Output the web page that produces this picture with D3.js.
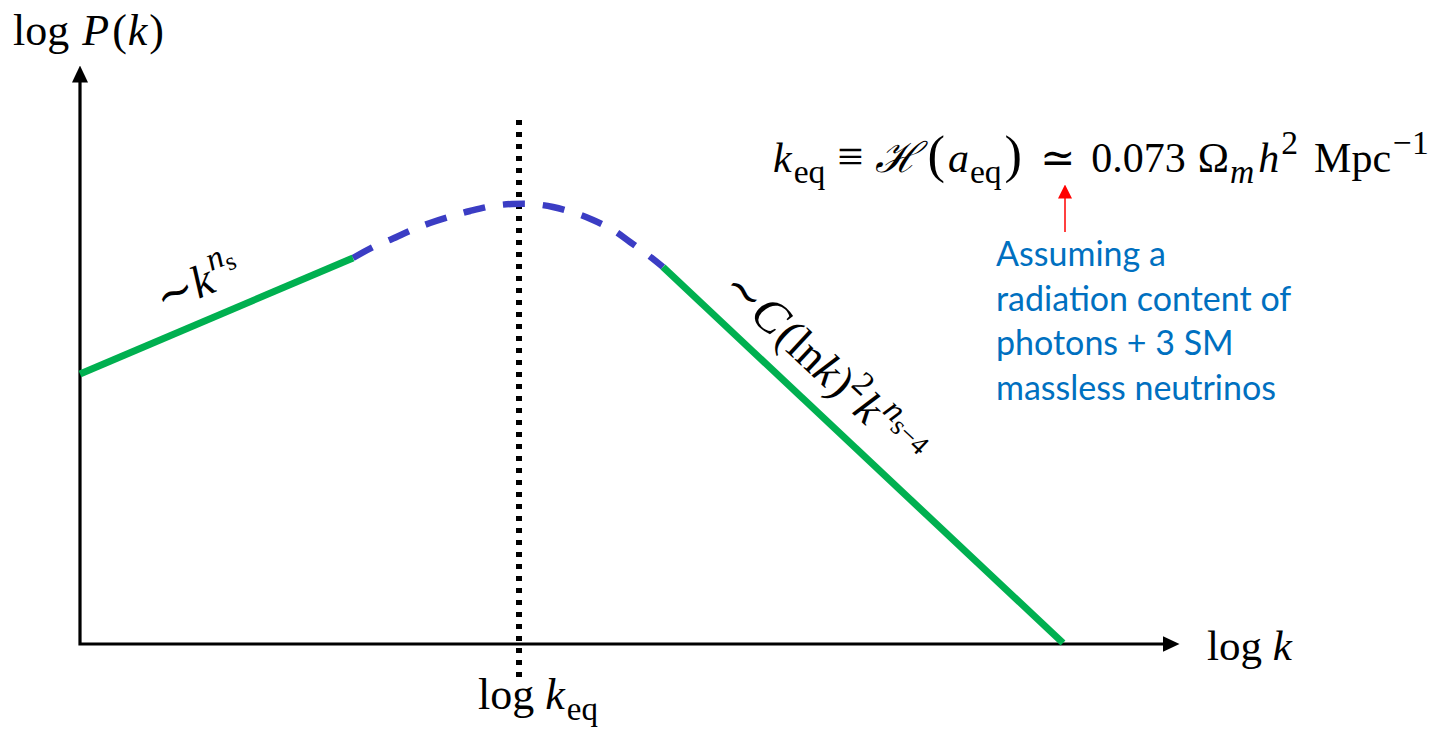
<!DOCTYPE html>
<html>
<head>
<meta charset="utf-8">
<script src="https://cdn.jsdelivr.net/npm/d3@7"></script>
<style>
  html, body { margin: 0; padding: 0; background: #fff; }
  svg { display: block; }
</style>
</head>
<body>
<div id="chart"></div>
<script>
// --------------------------------------
//  Data (log k, log P in arbitrary units)
// --------------------------------------

const lowK = [
  { k: 0.00, p: 2.70 },
  { k: 2.73, p: 3.86 }
];

const turnover = [
  { k: 2.73, p: 3.86 }, { k: 2.93, p: 3.97 }, { k: 3.12, p: 4.05 },
  { k: 3.32, p: 4.14 }, { k: 3.50, p: 4.21 }, { k: 3.72, p: 4.28 },
  { k: 3.90, p: 4.33 }, { k: 4.12, p: 4.38 }, { k: 4.32, p: 4.40 },
  { k: 4.53, p: 4.40 }, { k: 4.73, p: 4.37 }, { k: 4.95, p: 4.31 },
  { k: 5.13, p: 4.24 }, { k: 5.33, p: 4.14 }, { k: 5.50, p: 4.02 },
  { k: 5.68, p: 3.89 }, { k: 5.83, p: 3.77 }
];

const highK = [
  { k: 5.83, p: 3.77 },
  { k: 9.83, p: 0.01 }
];

const kEq = 4.39;
const kMax = 11;     // tip of the x arrow
const pMax = 5.79;   // tip of the y arrow

const noteLines = ["Assuming a", "radiation content of", "photons + 3 SM", "massless neutrinos"];

const width = 1439, height = 732;

// --------------------------------------
//  Canvas
// --------------------------------------

const svg = d3.select("#chart")
  .append("svg")
    .attr("width", width)
    .attr("height", height)
    .attr("viewBox", [0, 0, width, height]);

const defs = svg.append("defs");

defs.append("marker")
    .attr("id", "arrow")
    .attr("viewBox", "0 0 17 16")
    .attr("markerUnits", "userSpaceOnUse")
    .attr("markerWidth", 17)
    .attr("markerHeight", 16)
    .attr("refX", 0.5)
    .attr("refY", 8)
    .attr("orient", "auto-start-reverse")
  .append("path")
    .attr("d", "M0,0L17,8L0,16Z")
    .attr("fill", "#000");

defs.append("marker")
    .attr("id", "redArrow")
    .attr("viewBox", "0 0 14 14")
    .attr("markerUnits", "userSpaceOnUse")
    .attr("markerWidth", 14)
    .attr("markerHeight", 14)
    .attr("refX", 0.5)
    .attr("refY", 7)
    .attr("orient", "auto")
  .append("path")
    .attr("d", "M0,0L14,7L0,14Z")
    .attr("fill", "#ff0000");

// --------------------------------------
// Scales
// --------------------------------------

const x = d3.scaleLinear()
    .domain([0, kMax])
    .range([80, 1180]);

const y = d3.scaleLinear()
    .domain([0, pMax])
    .range([644, 65]);

// --------------------------------------
// Axes (plain arrows, no ticks)
// --------------------------------------

const arrowLen = 17;

svg.append("path")
    .attr("d", `M${x(0)},${y(pMax) + arrowLen}V${y(0)}H${x(kMax) - arrowLen}`)
    .attr("fill", "none")
    .attr("stroke", "#000")
    .attr("stroke-width", 3.2)
    .attr("stroke-linejoin", "miter")
    .attr("marker-start", "url(#arrow)")
    .attr("marker-end", "url(#arrow)");

// k_eq marker
svg.append("line")
    .attr("x1", x(kEq)).attr("x2", x(kEq))
    .attr("y1", 120).attr("y2", 678)
    .attr("stroke", "#000")
    .attr("stroke-width", 6)
    .attr("stroke-dasharray", "5,7");

// --------------------------------------
// Lines
// --------------------------------------

const line = d3.line()
    .x(d => x(d.k))
    .y(d => y(d.p));

svg.append("path")
    .datum(turnover)
    .attr("d", line.curve(d3.curveCatmullRom))
    .attr("fill", "none")
    .attr("stroke", "#3b3dc4")
    .attr("stroke-width", 6.5)
    .attr("stroke-dasharray", "22,18");

line.curve(d3.curveLinear);

[lowK, highK].forEach(seg => {
  svg.append("path")
      .datum(seg)
      .attr("d", line)
      .attr("fill", "none")
      .attr("stroke", "#00b050")
      .attr("stroke-width", 7);
});

// --------------------------------------
// Math text helper
// --------------------------------------

const serif = "'Liberation Serif', 'DejaVu Serif', serif";

function addMath(text, parts, size) {
  let off = 0;
  parts.forEach(p => {
    const target = p.shift || 0;
    text.append("tspan")
        .attr("dx", p.dx || 0)
        .attr("dy", (target - off) * size)
        .attr("font-size", (p.scale || 1) * size)
        .attr("font-style", p.it ? "italic" : "normal")
        .text(p.t);
    off = target;
  });
  return text;
}

// axis titles
addMath(svg.append("text")
    .attr("x", 13).attr("y", 45)
    .attr("font-family", serif),
  [{ t: "log " }, { t: "P", it: true, dx: 2 }, { t: "(", dx: 3 }, { t: "k", it: true, dx: 1 }, { t: ")", dx: 2 }], 44);

addMath(svg.append("text")
    .attr("x", x(kMax) + 27).attr("y", 660)
    .attr("font-family", serif),
  [{ t: "log " }, { t: "k", it: true }], 43);

addMath(svg.append("text")
    .attr("x", x(kEq) - 41).attr("y", 709)
    .attr("font-family", serif),
  [{ t: "log " }, { t: "k", it: true }, { t: "eq", scale: 0.75, shift: 0.25, dx: 2 }], 44);

// k_eq formula
addMath(svg.append("text")
    .attr("x", 773).attr("y", 172)
    .attr("font-family", serif),
  [
    { t: "k", it: true },
    { t: "eq", scale: 0.8, shift: 0.25, dx: 2 },
    { t: "≡", shift: 0, dx: 12, scale: 1.1 },
    { t: "ℋ", it: true, dx: 12 },
    { t: "(", scale: 1.25, dx: 8 },
    { t: "a", it: true, dx: 3 },
    { t: "eq", scale: 0.8, shift: 0.25, dx: 1 },
    { t: ")", scale: 1.25, shift: 0, dx: 3 },
    { t: "≃", dx: 18 },
    { t: "0.073", dx: 16 },
    { t: "Ω", dx: 12 },
    { t: "m", it: true, scale: 0.8, shift: 0.25, dx: 1 },
    { t: "h", it: true, shift: 0, dx: 4 },
    { t: "2", scale: 0.8, shift: -0.42, dx: 2 },
    { t: "Mpc", shift: 0, dx: 16 },
    { t: "−1", scale: 0.8, shift: -0.42, dx: 2 }
  ], 42);

// slope labels
addMath(svg.append("text")
    .attr("transform", `translate(163,314) rotate(-23)`)
    .attr("font-family", serif),
  [{ t: "∼" }, { t: "k", it: true }, { t: "n", it: true, scale: 0.72, shift: -0.45, dx: 2 }, { t: "s", scale: 0.55, shift: -0.3 }], 46);

addMath(svg.append("text")
    .attr("transform", `translate(720,290) rotate(43)`)
    .attr("font-family", serif),
  [
    { t: "∼" }, { t: "C", it: true, scale: 1.05 }, { t: "(ln", dx: 2 }, { t: "k", it: true }, { t: ")", dx: 1 },
    { t: "2", scale: 0.72, shift: -0.4 },
    { t: "k", it: true, shift: 0, dx: 2 },
    { t: "n", it: true, scale: 0.72, shift: -0.45, dx: 2 },
    { t: "s−4", scale: 0.6, shift: -0.3 }
  ], 46);

// --------------------------------------
// Note with red arrow
// --------------------------------------

svg.append("line")
    .attr("x1", 1065).attr("x2", 1065)
    .attr("y1", 232).attr("y2", 198)
    .attr("stroke", "#ff0000")
    .attr("stroke-width", 1.5)
    .attr("marker-end", "url(#redArrow)");

svg.append("g")
  .selectAll("text")
  .data(noteLines)
  .join("text")
    .attr("x", 996)
    .attr("y", (d, i) => 266 + i * 44.5)
    .attr("font-family", "Lato, 'Open Sans', sans-serif")
    .attr("font-size", 34)
    .attr("fill", "#0070c0")
    .text(d => d);
</script>
</body>
</html>
